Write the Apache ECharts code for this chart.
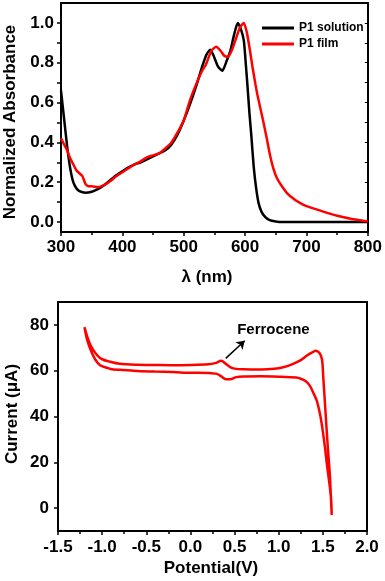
<!DOCTYPE html>
<html>
<head>
<meta charset="utf-8">
<script src="https://cdn.jsdelivr.net/npm/echarts@6/dist/echarts.min.js"></script>
<style>
    html, body { margin: 0; padding: 0; background: #fff; }
    #chart { width: 385px; height: 581px; }
</style>
</head>
<body>
<div id="chart"></div>
<script>
// 吸收光谱：P1 溶液
const solutionX = [300, 305, 310, 315, 320, 325, 330, 340, 350, 360, 370, 380, 390, 400, 410, 420, 430, 440, 450, 460, 470, 480, 490, 500, 510, 520, 530, 537, 543, 548, 556, 563, 570, 576, 582, 588, 593, 598, 601, 604, 607, 610, 614, 618, 622, 627, 633, 640, 650, 660, 700, 750, 800];
const solutionY = [0.66, 0.52, 0.38, 0.27, 0.20, 0.17, 0.155, 0.147, 0.152, 0.165, 0.185, 0.21, 0.235, 0.255, 0.275, 0.29, 0.30, 0.315, 0.33, 0.345, 0.36, 0.39, 0.44, 0.51, 0.59, 0.68, 0.78, 0.84, 0.865, 0.84, 0.78, 0.76, 0.81, 0.86, 0.94, 1.0, 0.97, 0.91, 0.80, 0.68, 0.55, 0.44, 0.28, 0.17, 0.095, 0.05, 0.025, 0.01, 0.003, 0.0, 0.0, 0.0, 0.0];

// 吸收光谱：P1 薄膜
const filmX = [300, 305, 310, 315, 320, 325, 330, 335, 340, 345, 350, 360, 370, 380, 390, 400, 410, 420, 430, 440, 450, 460, 470, 480, 490, 500, 510, 520, 530, 536, 545, 553, 560, 566, 572, 578, 585, 592, 598, 603, 608, 612, 617, 620, 625, 630, 636, 641, 646, 652, 660, 670, 680, 690, 700, 715, 730, 750, 770, 785, 800];
const filmY = [0.42, 0.39, 0.36, 0.32, 0.29, 0.26, 0.245, 0.23, 0.19, 0.18, 0.18, 0.175, 0.185, 0.205, 0.23, 0.25, 0.27, 0.29, 0.305, 0.325, 0.335, 0.345, 0.37, 0.40, 0.45, 0.51, 0.61, 0.69, 0.76, 0.79, 0.86, 0.88, 0.86, 0.835, 0.83, 0.86, 0.92, 0.98, 1.0, 0.95, 0.86, 0.78, 0.69, 0.64, 0.57, 0.50, 0.41, 0.33, 0.27, 0.22, 0.18, 0.14, 0.115, 0.095, 0.08, 0.065, 0.05, 0.032, 0.018, 0.01, 0.003];

// 循环伏安：先正扫（上支）再回扫（下支）
const cvPotential = [-1.2, -1.17, -1.13, -1.10, -1.05, -1.0, -0.91, -0.8, -0.6, -0.4, -0.2, 0.0, 0.2, 0.28, 0.35, 0.4, 0.45, 0.5, 0.6, 0.8, 0.95, 1.05, 1.15, 1.25, 1.32, 1.38, 1.42, 1.46, 1.49, 1.505, 1.52, 1.535, 1.55, 1.565, 1.58, 1.6,
    1.595, 1.58, 1.56, 1.54, 1.524, 1.49, 1.467, 1.43, 1.39, 1.35, 1.3, 1.25, 1.2, 1.0, 0.8, 0.6, 0.52, 0.45, 0.4, 0.35, 0.3, 0.2, 0.0, -0.2, -0.4, -0.6, -0.8, -0.874, -0.95, -1.024, -1.08, -1.13, -1.17, -1.2];
const cvCurrent = [79, 75, 71, 69, 66.5, 65, 63.9, 63.0, 62.6, 62.5, 62.4, 62.5, 62.8, 63.3, 64.3, 63.0, 61.6, 60.9, 60.6, 60.5, 60.8, 61.5, 62.8, 64.6, 66.6, 68.0, 68.7, 67.8, 65, 57, 48, 39, 30, 22, 14, -3,
    3, 9, 14.8, 21, 26.5, 36, 41.2, 47, 50.5, 53.6, 55.6, 56.5, 57.0, 57.4, 57.6, 57.5, 57.2, 56.3, 56.3, 57.5, 58.6, 59.0, 59.1, 59.4, 59.6, 59.9, 60.4, 60.5, 61.3, 62.4, 65, 69, 73.5, 79];

// 刻度
const absLabels = [0, 0.2, 0.4, 0.6, 0.8, 1.0];
const absTicks = [0, 0.1, 0.2, 0.3, 0.4, 0.5, 0.6, 0.7, 0.8, 0.9, 1.0];
const currentLabels = [0, 20, 40, 60, 80];

const pair = (xs, ys) => xs.map((x, i) => [x, ys[i]]);

const FONT = "'Liberation Sans', Arial, sans-serif";
const axisLine = { show: true, onZero: false, lineStyle: { color: '#000', width: 2 } };
const labelStyle = { color: '#000', fontFamily: FONT, fontWeight: 'bold', fontSize: 17 };
const tickLine = { color: '#000', width: 1.5 };

let myChart = echarts.init(document.getElementById('chart'));
myChart.setOption({
    animation: false,
    grid: [
        { left: 61, top: 3, width: 309, height: 229 },
        { left: 58, top: 302, width: 309, height: 229 }
    ],
    legend: {
        data: ['P1 solution', 'P1 film'],
        orient: 'vertical',
        left: 257,
        top: 17,
        icon: 'rect',
        itemWidth: 32,
        itemHeight: 3,
        itemGap: 4,
        textStyle: { color: '#000', fontFamily: FONT, fontWeight: 'bold', fontSize: 12 }
    },
    xAxis: [
        {
            gridIndex: 0, type: 'value', min: 300, max: 800, interval: 100,
            axisLine: axisLine,
            axisTick: { show: true, inside: false, length: 4, lineStyle: tickLine },
            minorTick: { show: true, splitNumber: 2, length: 3, lineStyle: tickLine },
            axisLabel: Object.assign({ margin: 7 }, labelStyle),
            splitLine: { show: false }
        },
        {
            gridIndex: 0, type: 'value', position: 'top', min: 300, max: 800,
            axisLine: axisLine, axisTick: { show: false }, axisLabel: { show: false }, splitLine: { show: false }
        },
        {
            gridIndex: 1, type: 'value', min: -1.5, max: 2.0, interval: 0.5,
            axisLine: axisLine,
            axisTick: { show: true, inside: false, length: 4, lineStyle: tickLine },
            minorTick: { show: true, splitNumber: 2, length: 3, lineStyle: tickLine },
            axisLabel: Object.assign({ margin: 8, formatter: v => v.toFixed(1) }, labelStyle),
            splitLine: { show: false }
        },
        {
            gridIndex: 1, type: 'value', position: 'top', min: -1.5, max: 2.0,
            axisLine: axisLine, axisTick: { show: false }, axisLabel: { show: false }, splitLine: { show: false }
        }
    ],
    yAxis: [
        {
            gridIndex: 0, type: 'value', min: -0.05, max: 1.1,
            axisLine: axisLine,
            axisTick: { show: true, inside: false, length: 4, customValues: absTicks, lineStyle: tickLine },
            axisLabel: Object.assign({ margin: 7, customValues: absLabels, formatter: v => v.toFixed(1) }, labelStyle),
            splitLine: { show: false }
        },
        {
            gridIndex: 0, type: 'value', position: 'right', min: -0.05, max: 1.1,
            axisLine: axisLine,
            axisTick: { show: true, inside: true, length: 3, customValues: absTicks, lineStyle: { color: '#000', width: 1 } },
            axisLabel: { show: false }, splitLine: { show: false }
        },
        {
            gridIndex: 1, type: 'value', min: -10, max: 90,
            axisLine: axisLine,
            axisTick: { show: true, inside: false, length: 4, customValues: currentLabels, lineStyle: tickLine },
            axisLabel: Object.assign({ margin: 9, customValues: currentLabels }, labelStyle),
            splitLine: { show: false }
        },
        {
            gridIndex: 1, type: 'value', position: 'right', min: -10, max: 90,
            axisLine: axisLine, axisTick: { show: false }, axisLabel: { show: false }, splitLine: { show: false }
        }
    ],
    series: [
        {
            name: 'P1 solution', type: 'line', xAxisIndex: 0, yAxisIndex: 0,
            symbol: 'none', smooth: 0.2, color: '#000',
            lineStyle: { width: 2.5, color: '#000' },
            data: pair(solutionX, solutionY)
        },
        {
            name: 'P1 film', type: 'line', xAxisIndex: 0, yAxisIndex: 0,
            symbol: 'none', smooth: 0.2, color: '#ff0000',
            lineStyle: { width: 2.5, color: '#ff0000' },
            data: pair(filmX, filmY)
        },
        {
            name: 'CV', type: 'line', xAxisIndex: 2, yAxisIndex: 2,
            symbol: 'none', smooth: 0.3,
            lineStyle: { width: 2.5, color: '#ff0000' },
            data: pair(cvPotential, cvCurrent),
            // Ferrocene 标注箭头
            markLine: {
                silent: true,
                symbolSize: 8,
                label: { show: false },
                lineStyle: { color: '#000', width: 1.5, type: 'solid' },
                data: [[
                    { coord: [0.40, 65.4], symbol: 'none' },
                    { coord: [0.615, 73.1], symbol: 'arrow' }
                ]]
            },
            markPoint: {
                silent: true,
                symbol: 'circle',
                symbolSize: 0,
                label: {
                    show: true, position: 'inside', formatter: 'Ferrocene',
                    color: '#000', fontFamily: FONT, fontWeight: 'bold', fontSize: 15
                },
                data: [{ coord: [0.94, 77.8] }]
            }
        }
    ],
    graphic: [
        { type: 'text', x: 10, y: 122, rotation: Math.PI / 2,
          style: { text: 'Normalized Absorbance', textAlign: 'center', textVerticalAlign: 'middle', fill: '#000', font: 'bold 17px ' + FONT } },
        { type: 'text', x: 207, y: 277,
          style: { text: 'λ (nm)', textAlign: 'center', textVerticalAlign: 'middle', fill: '#000', font: 'bold 17px ' + FONT } },
        { type: 'text', x: 12, y: 414, rotation: Math.PI / 2,
          style: { text: 'Current (μA)', textAlign: 'center', textVerticalAlign: 'middle', fill: '#000', font: 'bold 17px ' + FONT } },
        { type: 'text', x: 211, y: 568,
          style: { text: 'Potential(V)', textAlign: 'center', textVerticalAlign: 'middle', fill: '#000', font: 'bold 17px ' + FONT } }
    ]
});
</script>
</body>
</html>
